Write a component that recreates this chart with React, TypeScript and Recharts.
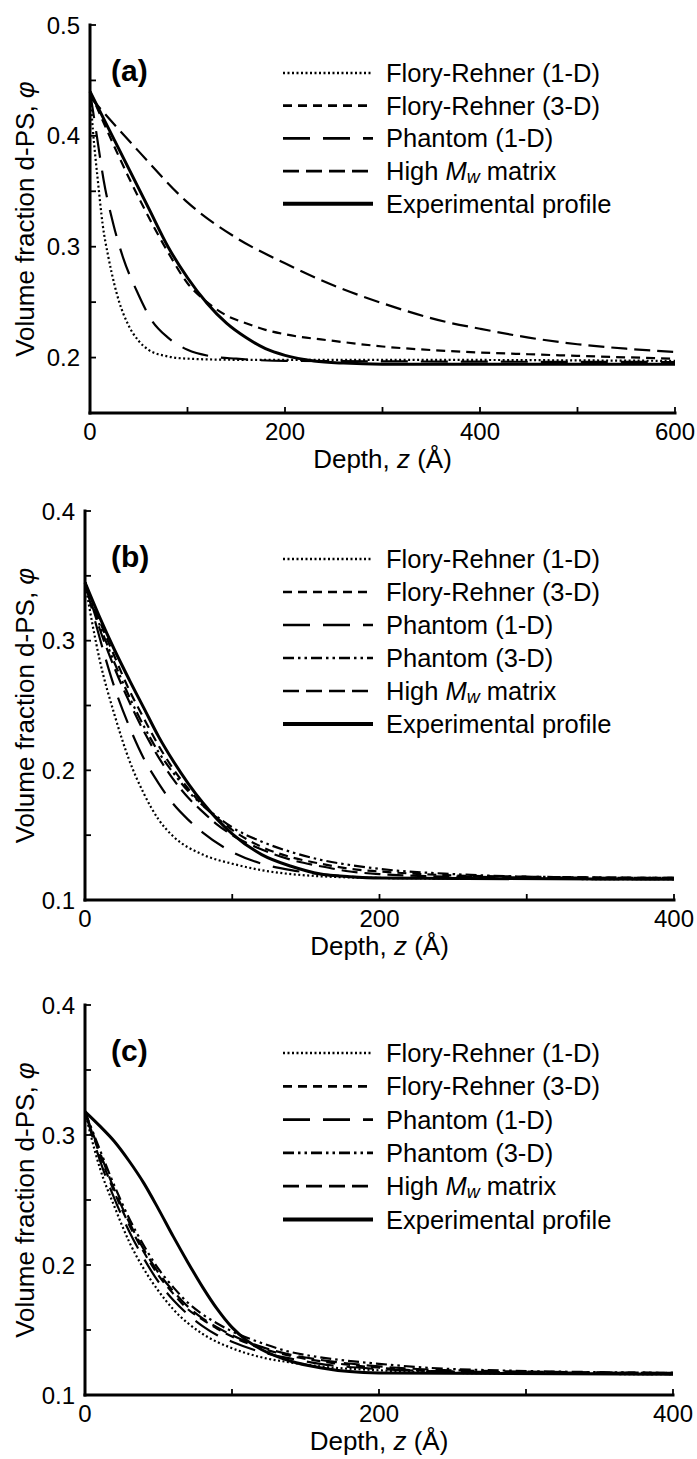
import React from 'react';
import { LineChart, Line, XAxis, YAxis, Legend } from 'recharts';

const FONT = '"Liberation Sans", Arial, Helvetica, sans-serif';

// ---------- Panel (a) data ----------
const zA_fr1 = [0, 3, 8, 13, 19, 25, 30, 39, 50, 60, 80, 100, 150, 300, 600];
const phiA_fr1 = [0.44, 0.405, 0.36, 0.32, 0.29, 0.266, 0.25, 0.23, 0.215, 0.207, 0.201, 0.199, 0.198, 0.198, 0.197];
const zA_fr3 = [0, 20, 40, 60, 80, 100, 120, 140, 160, 180, 200, 250, 300, 365, 450, 520, 600];
const phiA_fr3 = [0.44, 0.4, 0.362, 0.327, 0.295, 0.267, 0.25, 0.238, 0.231, 0.225, 0.221, 0.215, 0.21, 0.206, 0.203, 0.201, 0.199];
const zA_ph1 = [0, 7, 14, 24, 34, 48, 63, 80, 100, 125, 150, 200, 600];
const phiA_ph1 = [0.44, 0.4, 0.36, 0.32, 0.29, 0.26, 0.234, 0.218, 0.207, 0.201, 0.199, 0.197, 0.196];
const zA_hmw = [0, 50, 100, 150, 200, 250, 300, 366, 400, 450, 500, 550, 600];
const phiA_hmw = [0.435, 0.386, 0.34, 0.308, 0.285, 0.265, 0.249, 0.232, 0.226, 0.218, 0.212, 0.208, 0.205];
const zA_exp = [0, 20, 40, 60, 80, 100, 120, 140, 160, 180, 200, 230, 260, 300, 600];
const phiA_exp = [0.44, 0.405, 0.37, 0.335, 0.3, 0.272, 0.249, 0.231, 0.218, 0.208, 0.202, 0.197, 0.195, 0.194, 0.194];

// ---------- Panel (b) data ----------
const zB_fr1 = [0, 5, 10, 20, 30, 40, 50, 60, 80, 100, 120, 150, 200, 400];
const phiB_fr1 = [0.345, 0.313, 0.285, 0.243, 0.208, 0.182, 0.162, 0.149, 0.135, 0.128, 0.123, 0.119, 0.117, 0.116];
const zB_fr3 = [0, 10, 20, 30, 40, 50, 60, 70, 80, 90, 100, 120, 140, 160, 180, 200, 250, 300, 400];
const phiB_fr3 = [0.345, 0.315, 0.288, 0.262, 0.24, 0.219, 0.201, 0.186, 0.173, 0.163, 0.154, 0.141, 0.133, 0.128, 0.124, 0.122, 0.119, 0.118, 0.117];
const zB_ph1 = [0, 10, 20, 30, 40, 50, 60, 70, 80, 100, 120, 140, 160, 200, 400];
const phiB_ph1 = [0.345, 0.302, 0.264, 0.234, 0.209, 0.19, 0.174, 0.162, 0.152, 0.137, 0.128, 0.123, 0.12, 0.117, 0.116];
const zB_ph3 = [0, 10, 20, 30, 40, 50, 60, 70, 80, 90, 100, 120, 140, 160, 180, 200, 250, 300, 400];
const phiB_ph3 = [0.345, 0.312, 0.283, 0.257, 0.234, 0.214, 0.198, 0.184, 0.173, 0.164, 0.156, 0.145, 0.137, 0.131, 0.127, 0.124, 0.12, 0.118, 0.117];
const zB_hmw = [0, 10, 20, 30, 40, 50, 60, 70, 80, 90, 100, 120, 140, 160, 180, 200, 250, 400];
const phiB_hmw = [0.345, 0.309, 0.279, 0.253, 0.23, 0.21, 0.193, 0.179, 0.168, 0.158, 0.15, 0.139, 0.131, 0.126, 0.122, 0.12, 0.118, 0.117];
const zB_exp = [0, 10, 20, 30, 40, 50, 60, 70, 80, 90, 100, 120, 140, 160, 180, 200, 400];
const phiB_exp = [0.345, 0.318, 0.293, 0.27, 0.248, 0.226, 0.207, 0.19, 0.175, 0.162, 0.151, 0.135, 0.126, 0.12, 0.118, 0.117, 0.116];

// ---------- Panel (c) data ----------
const zC_fr1 = [0, 5, 10, 20, 30, 40, 50, 60, 80, 100, 120, 140, 160, 200, 250, 400];
const phiC_fr1 = [0.318, 0.295, 0.275, 0.245, 0.218, 0.197, 0.18, 0.166, 0.147, 0.136, 0.129, 0.125, 0.122, 0.119, 0.117, 0.116];
const zC_mod = [0, 10, 20, 30, 40, 50, 60, 70, 80, 90, 100, 120, 140, 160, 200, 250, 400];
const phiC_fr3 = [0.318, 0.285, 0.256, 0.231, 0.21, 0.192, 0.178, 0.166, 0.158, 0.151, 0.145, 0.136, 0.13, 0.126, 0.121, 0.118, 0.117];
const phiC_ph1 = [0.318, 0.281, 0.251, 0.226, 0.205, 0.187, 0.173, 0.162, 0.153, 0.146, 0.141, 0.133, 0.128, 0.124, 0.12, 0.118, 0.116];
const phiC_ph3 = [0.318, 0.289, 0.261, 0.236, 0.215, 0.197, 0.183, 0.171, 0.162, 0.155, 0.149, 0.14, 0.133, 0.129, 0.124, 0.12, 0.117];
const phiC_hmw = [0.318, 0.287, 0.258, 0.233, 0.212, 0.194, 0.18, 0.168, 0.159, 0.152, 0.146, 0.137, 0.131, 0.127, 0.122, 0.119, 0.117];
const zC_exp = [0, 10, 20, 30, 40, 50, 60, 70, 80, 90, 100, 110, 120, 140, 160, 180, 200, 400];
const phiC_exp = [0.318, 0.307, 0.295, 0.28, 0.263, 0.243, 0.222, 0.202, 0.183, 0.166, 0.152, 0.142, 0.135, 0.126, 0.121, 0.118, 0.117, 0.116];

// ---------- Axis ticks ----------
const xTicksA = [0, 100, 200, 300, 400, 500, 600];
const xTicksBC = [0, 100, 200, 300, 400];
const yTicksA = [0.15, 0.2, 0.25, 0.3, 0.35, 0.4, 0.45, 0.5];
const yTicksBC = [0.1, 0.15, 0.2, 0.25, 0.3, 0.35, 0.4];

// ---------- Series names & styles ----------
const NAME_FR1 = 'Flory-Rehner (1-D)';
const NAME_FR3 = 'Flory-Rehner (3-D)';
const NAME_PH1 = 'Phantom (1-D)';
const NAME_PH3 = 'Phantom (3-D)';
const NAME_HMW = 'High Mw matrix';
const NAME_EXP = 'Experimental profile';

const STYLES: Record<string, { dash?: string; width: number }> = {
  [NAME_FR1]: { dash: '2 2.5', width: 2.2 },
  [NAME_FR3]: { dash: '9 6', width: 2.2 },
  [NAME_PH1]: { dash: '27 13', width: 2.2 },
  [NAME_PH3]: { dash: '11 4 2.5 4 2.5 4', width: 2.2 },
  [NAME_HMW]: { dash: '16 7', width: 2.2 },
  [NAME_EXP]: { dash: undefined, width: 3 },
};

type S = { name: string; z: number[]; phi: number[] };

const build = (z: number[], phi: number[]) => z.map((v, i) => ({ z: v, phi: phi[i] }));

const seriesA: S[] = [
  { name: NAME_FR1, z: zA_fr1, phi: phiA_fr1 },
  { name: NAME_FR3, z: zA_fr3, phi: phiA_fr3 },
  { name: NAME_PH1, z: zA_ph1, phi: phiA_ph1 },
  { name: NAME_HMW, z: zA_hmw, phi: phiA_hmw },
  { name: NAME_EXP, z: zA_exp, phi: phiA_exp },
];
const seriesB: S[] = [
  { name: NAME_FR1, z: zB_fr1, phi: phiB_fr1 },
  { name: NAME_FR3, z: zB_fr3, phi: phiB_fr3 },
  { name: NAME_PH1, z: zB_ph1, phi: phiB_ph1 },
  { name: NAME_PH3, z: zB_ph3, phi: phiB_ph3 },
  { name: NAME_HMW, z: zB_hmw, phi: phiB_hmw },
  { name: NAME_EXP, z: zB_exp, phi: phiB_exp },
];
const seriesC: S[] = [
  { name: NAME_FR1, z: zC_fr1, phi: phiC_fr1 },
  { name: NAME_FR3, z: zC_mod, phi: phiC_fr3 },
  { name: NAME_PH1, z: zC_mod, phi: phiC_ph1 },
  { name: NAME_PH3, z: zC_mod, phi: phiC_ph3 },
  { name: NAME_HMW, z: zC_mod, phi: phiC_hmw },
  { name: NAME_EXP, z: zC_exp, phi: phiC_exp },
];

const renderName = (name: string) => {
  if (name === NAME_HMW) {
    return (
      <>
        <tspan>High </tspan>
        <tspan fontStyle="italic">M</tspan>
        <tspan fontStyle="italic" fontSize="18" dy={6}>w</tspan>
        <tspan dy={-6}> matrix</tspan>
      </>
    );
  }
  return name;
};

type PanelProps = {
  top: number;
  height: number;
  margin: { top: number; right: number; bottom: number; left: number };
  yWidth: number;
  xMax: number;
  xTicks: number[];
  yDomain: [number, number];
  yTicks: number[];
  letter: string;
  series: S[];
  rowGap: number;
};

const TICK_FONT = 24;
const AXIS_FONT = 26;
const LEGEND_FONT = 25.5;

const axisLineStyle = { stroke: '#000', strokeWidth: 3, strokeLinecap: 'square' as const };
const tickLineStyle = { stroke: '#000', strokeWidth: 1.8 };

function Panel(p: PanelProps) {
  const plotLeft = p.margin.left + p.yWidth;
  const plotRight = 697 - p.margin.right;
  const plotTop = p.margin.top;
  const plotBottom = p.height - p.margin.bottom - 60;

  const xLabel = (props: any) => {
    const vb = props && props.viewBox && typeof props.viewBox.x === 'number' ? props.viewBox : null;
    const cx = vb ? vb.x + vb.width / 2 : (plotLeft + plotRight) / 2;
    const y = (vb ? vb.y : plotBottom) + 46;
    return (
      <text x={cx} y={y} textAnchor="middle" dominantBaseline="central" fontSize={AXIS_FONT} fontFamily={FONT} fill="#000">
        Depth, <tspan fontStyle="italic">z</tspan> (Å)
      </text>
    );
  };
  const yLabel = (props: any) => {
    const vb = props && props.viewBox && typeof props.viewBox.y === 'number' ? props.viewBox : null;
    const cy = vb ? vb.y + vb.height / 2 : (plotTop + plotBottom) / 2;
    const cx = 25;
    return (
      <text x={cx} y={cy} transform={`rotate(-90 ${cx} ${cy})`} textAnchor="middle" dominantBaseline="central" fontSize={AXIS_FONT} fontFamily={FONT} fill="#000">
        Volume fraction d-PS, <tspan fontStyle="italic">φ</tspan>
      </text>
    );
  };

  const legendContent = () => {
    const row0 = plotTop + 48;
    return (
      <svg width={697} height={p.height} style={{ position: 'absolute', left: 0, top: 0, overflow: 'visible' }}>
        <text x={111} y={plotTop + 45} dominantBaseline="central" fontSize={30} fontWeight="bold" fontFamily={FONT} fill="#000">
          {p.letter}
        </text>
        {p.series.map((s, i) => {
          const y = row0 + i * p.rowGap;
          const st = STYLES[s.name];
          return (
            <g key={s.name}>
              <line x1={283} x2={373} y1={y} y2={y} stroke="#000" strokeWidth={st.width + (st.dash ? 0.5 : 1)} strokeDasharray={st.dash} />
              <text x={386} y={y} dominantBaseline="central" fontSize={LEGEND_FONT} fontFamily={FONT} fill="#000">
                {renderName(s.name)}
              </text>
            </g>
          );
        })}
      </svg>
    );
  };

  const labelX = (v: number) => (Math.round(v) % 200 === 0 ? String(v) : '');
  const labelY = (v: number) => (Math.abs(v * 10 - Math.round(v * 10)) < 1e-6 ? v.toFixed(1) : '');

  return (
    <div style={{ position: 'absolute', left: 0, top: p.top, width: 697, height: p.height }}>
      <LineChart width={697} height={p.height} margin={p.margin}>
        <XAxis
          xAxisId="x"
          type="number"
          dataKey="z"
          domain={[0, p.xMax]}
          ticks={p.xTicks}
          interval={0}
          tickSize={-6}
          tickMargin={16}
          tickFormatter={labelX}
          tick={{ fontSize: TICK_FONT, fill: '#000', fontFamily: FONT }}
          tickLine={tickLineStyle}
          axisLine={axisLineStyle}
          height={60}
          label={{ content: xLabel }}
        />
        <XAxis
          xAxisId="xt"
          orientation="top"
          type="number"
          domain={[0, p.xMax]}
          ticks={p.xTicks}
          interval={0}
          tickSize={-6}
          tick={false}
          tickLine={tickLineStyle}
          axisLine={axisLineStyle}
          height={0}
        />
        <YAxis
          yAxisId="y"
          type="number"
          domain={p.yDomain}
          ticks={p.yTicks}
          interval={0}
          tickSize={-6}
          tickMargin={16}
          tickFormatter={labelY}
          tick={{ fontSize: TICK_FONT, fill: '#000', fontFamily: FONT }}
          tickLine={tickLineStyle}
          axisLine={axisLineStyle}
          width={p.yWidth}
          label={{ content: yLabel }}
        />
        <YAxis
          yAxisId="yr"
          orientation="right"
          type="number"
          domain={p.yDomain}
          ticks={p.yTicks}
          interval={0}
          tickSize={-6}
          tick={false}
          tickLine={tickLineStyle}
          axisLine={axisLineStyle}
          width={0}
        />
        {p.series.map((s) => {
          const st = STYLES[s.name];
          return (
            <Line
              key={s.name}
              name={s.name}
              xAxisId="x"
              yAxisId="y"
              data={build(s.z, s.phi)}
              dataKey="phi"
              type="monotone"
              stroke="#000"
              strokeWidth={st.width}
              strokeDasharray={st.dash}
              dot={false}
              activeDot={false}
              isAnimationActive={false}
            />
          );
        })}
        <Legend
          layout="vertical"
          align="center"
          verticalAlign="middle"
          wrapperStyle={{ left: 0, top: 0, width: 697, height: p.height, pointerEvents: 'none' }}
          content={legendContent}
        />
      </LineChart>
    </div>
  );
}

export default function App() {
  return (
    <div style={{ position: 'absolute', left: 0, top: 0, width: 697, height: 1459, background: '#fff', fontFamily: FONT }}>
      <Panel
        top={0}
        height={480}
        margin={{ top: 25, right: 22, bottom: 7, left: 0 }}
        yWidth={90}
        xMax={600}
        xTicks={xTicksA}
        yDomain={[0.15, 0.5]}
        yTicks={yTicksA}
        letter="(a)"
        series={seriesA}
        rowGap={32.7}
      />
      <Panel
        top={480}
        height={490}
        margin={{ top: 31, right: 23, bottom: 10, left: 0 }}
        yWidth={85}
        xMax={400}
        xTicks={xTicksBC}
        yDomain={[0.1, 0.4]}
        yTicks={yTicksBC}
        letter="(b)"
        series={seriesB}
        rowGap={33}
      />
      <Panel
        top={970}
        height={489}
        margin={{ top: 35, right: 24, bottom: 4, left: 0 }}
        yWidth={85}
        xMax={400}
        xTicks={xTicksBC}
        yDomain={[0.1, 0.4]}
        yTicks={yTicksBC}
        letter="(c)"
        series={seriesC}
        rowGap={33.3}
      />
    </div>
  );
}
